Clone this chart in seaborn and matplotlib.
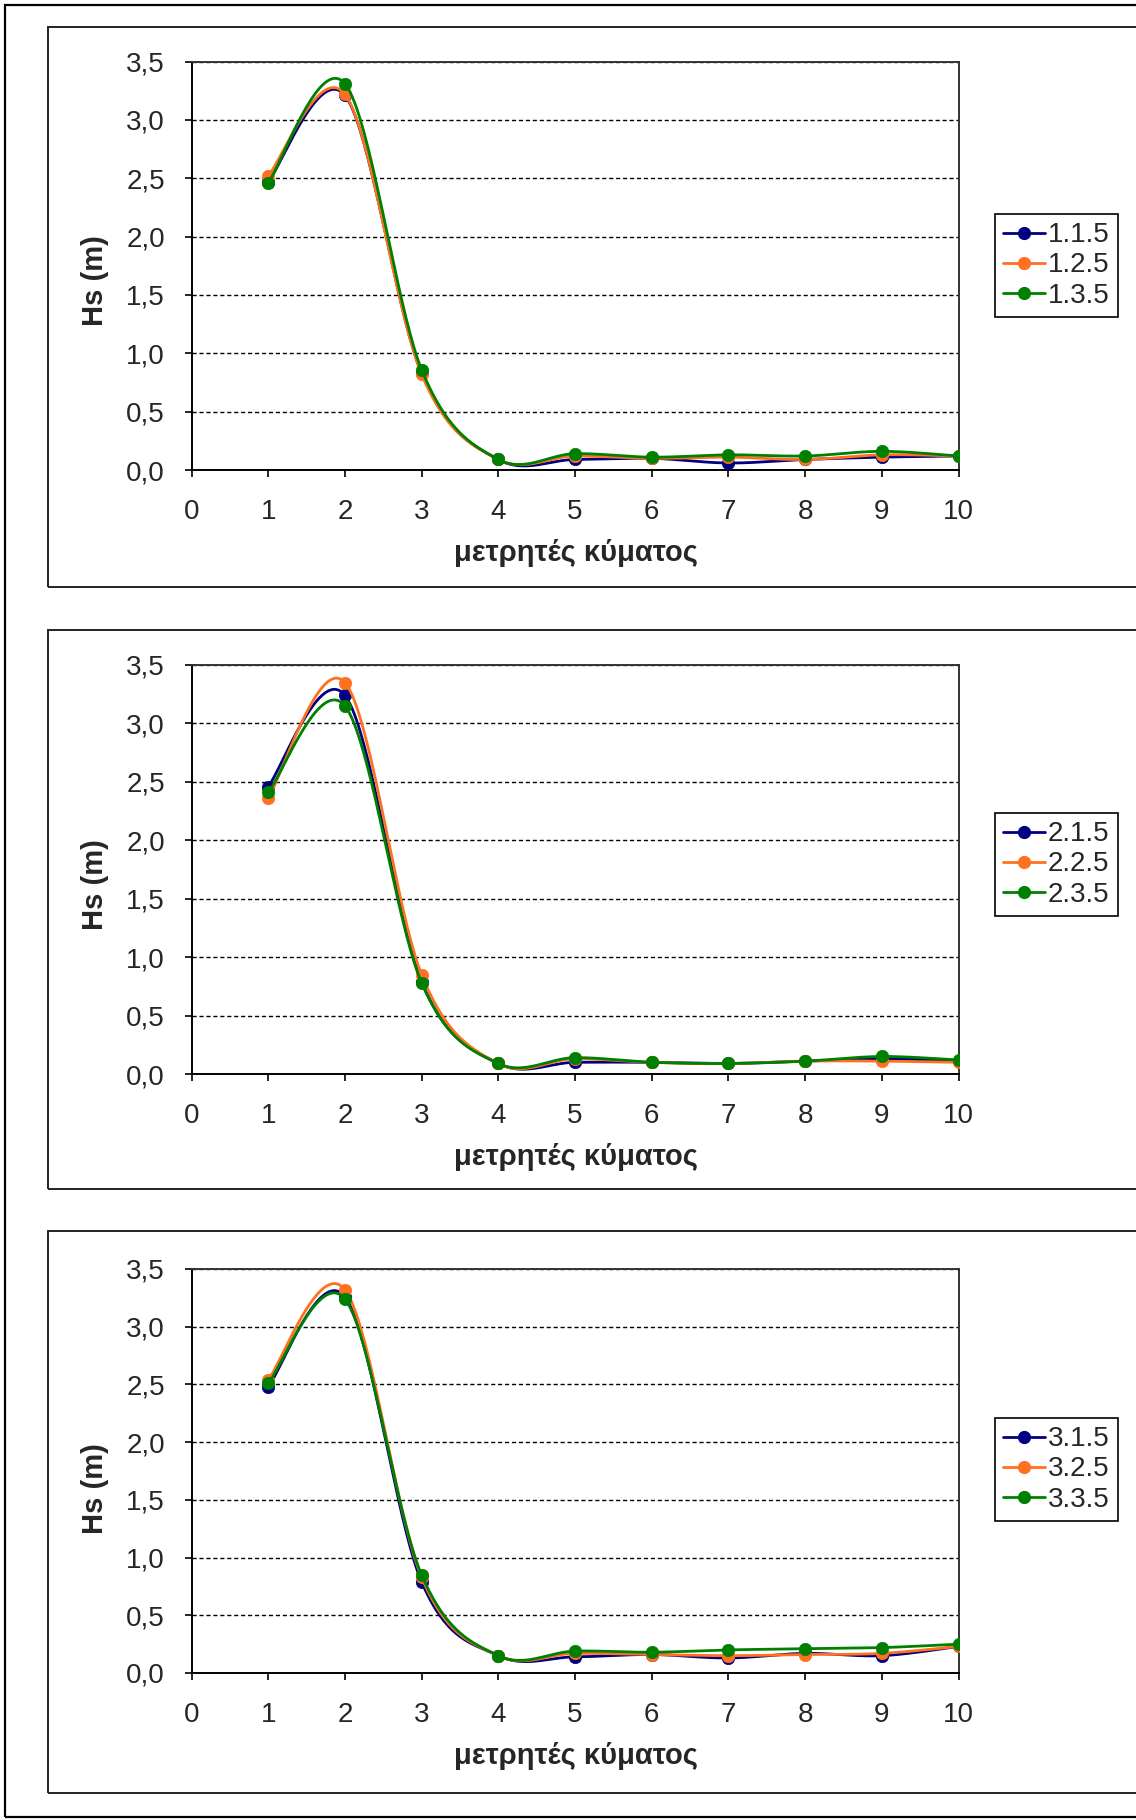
import numpy as np
import matplotlib
matplotlib.use("Agg")
import matplotlib.pyplot as plt
import seaborn as sns
from matplotlib.lines import Line2D
from matplotlib.patches import Rectangle

# ---- data: significant wave height Hs (m) at wave gauges 1..10 ----
gauges = [1, 2, 3, 4, 5, 6, 7, 8, 9, 10]

hs_1_1_5 = [2.47, 3.21, 0.83, 0.09, 0.09, 0.10, 0.06, 0.09, 0.11, 0.12]
hs_1_2_5 = [2.52, 3.22, 0.82, 0.09, 0.12, 0.10, 0.11, 0.09, 0.13, 0.12]
hs_1_3_5 = [2.46, 3.31, 0.86, 0.09, 0.14, 0.11, 0.13, 0.12, 0.16, 0.12]

hs_2_1_5 = [2.46, 3.24, 0.79, 0.09, 0.10, 0.10, 0.09, 0.11, 0.13, 0.11]
hs_2_2_5 = [2.36, 3.35, 0.85, 0.09, 0.13, 0.10, 0.09, 0.11, 0.11, 0.10]
hs_2_3_5 = [2.41, 3.15, 0.78, 0.09, 0.14, 0.10, 0.09, 0.11, 0.15, 0.12]

hs_3_1_5 = [2.48, 3.26, 0.79, 0.15, 0.14, 0.16, 0.13, 0.17, 0.15, 0.23]
hs_3_2_5 = [2.54, 3.32, 0.83, 0.15, 0.17, 0.16, 0.15, 0.16, 0.17, 0.23]
hs_3_3_5 = [2.51, 3.24, 0.85, 0.15, 0.19, 0.18, 0.20, 0.21, 0.22, 0.25]

labels_1 = ["1.1.5", "1.2.5", "1.3.5"]
labels_2 = ["2.1.5", "2.2.5", "2.3.5"]
labels_3 = ["3.1.5", "3.2.5", "3.3.5"]

x_ticks = list(range(0, 11))
y_ticks = [0.0, 0.5, 1.0, 1.5, 2.0, 2.5, 3.0, 3.5]
x_title = "μετρητές κύματος"
y_title = "Hs (m)"

series_colors = ["#000080", "#FF7020", "#008000"]

panels = [
    (labels_1, [hs_1_1_5, hs_1_2_5, hs_1_3_5]),
    (labels_2, [hs_2_1_5, hs_2_2_5, hs_2_3_5]),
    (labels_3, [hs_3_1_5, hs_3_2_5, hs_3_3_5]),
]

# ---- layout (pixels) ----
W, H = 1136, 1820
plot_rects = [(191.5, 61.5, 958.5, 470.0),
              (191.5, 665.0, 958.5, 1074.0),
              (191.5, 1269.0, 958.5, 1673.0)]
box_rects = [(48, 27, 587), (48, 630, 1189), (48, 1231, 1793)]
legend_tops = [214, 813, 1418]

sns.set_style("white")
plt.rcParams["font.family"] = ["Liberation Sans", "DejaVu Sans"]

fig = plt.figure(figsize=(W / 100, H / 100), dpi=100)
fig.patch.set_facecolor("white")


def fx(px):
    return px / W


def fy(py):
    return 1 - py / H


def smooth_curve(xs, ys, n=40):
    """Cubic Bezier smoothing through the points (spreadsheet-style smoothed line)."""
    P = np.column_stack([xs, ys]).astype(float)
    ext = np.vstack([P[0], P, P[-1]])
    out = []
    for i in range(len(P) - 1):
        p0, p1, p2, p3 = ext[i], ext[i + 1], ext[i + 2], ext[i + 3]
        b1 = p1 + (p2 - p0) / 6
        b2 = p2 - (p3 - p1) / 6
        t = np.linspace(0, 1, n, endpoint=(i == len(P) - 2))[:, None]
        seg = (1 - t) ** 3 * p1 + 3 * (1 - t) ** 2 * t * b1 + 3 * (1 - t) * t ** 2 * b2 + t ** 3 * p2
        out.append(seg)
    return np.vstack(out)


# outer frame
fig.add_artist(Rectangle((fx(5), fy(1817)), fx(1150) - fx(5), fy(5) - fy(1817),
                         transform=fig.transFigure, fill=False, ec="black", lw=1.6))

comma = matplotlib.ticker.FuncFormatter(lambda v, p: f"{v:.1f}".replace(".", ","))

for k, (labels, data) in enumerate(panels):
    bx, btop, bbot = box_rects[k]
    fig.add_artist(Rectangle((fx(bx), fy(bbot)), fx(1150) - fx(bx), fy(btop) - fy(bbot),
                             transform=fig.transFigure, fill=False, ec="#222222", lw=1.4))

    l, t, r, b = plot_rects[k]
    ax = fig.add_axes([fx(l), fy(b), fx(r) - fx(l), fy(t) - fy(b)])
    ax.set_facecolor("white")

    for j, (vals, col) in enumerate(zip(data, series_colors)):
        c = smooth_curve(gauges, vals)
        sns.lineplot(x=c[:, 0], y=c[:, 1], ax=ax, color=col, lw=2.0,
                     estimator=None, sort=False, zorder=3 + 2 * j)
        sns.scatterplot(x=gauges, y=vals, ax=ax, color=col, s=80, edgecolor=col,
                        linewidth=0.5, zorder=4 + 2 * j, legend=False)

    ax.set_xlim(0, 10)
    ax.set_ylim(0, 3.5)
    ax.set_xticks(x_ticks)
    ax.set_yticks(y_ticks)
    ax.yaxis.set_major_formatter(comma)
    ax.set_xlabel("")
    ax.set_ylabel("")
    ax.yaxis.grid(True, color="black", lw=1.0, linestyle=(0, (3, 2)))
    ax.xaxis.grid(False)
    ax.set_axisbelow(True)
    for s in ["left", "bottom"]:
        ax.spines[s].set_color("black")
        ax.spines[s].set_linewidth(1.4)
    for s in ["top", "right"]:
        ax.spines[s].set_color("#333333")
        ax.spines[s].set_linewidth(1.4)
    ax.tick_params(axis="x", direction="out", length=5, width=1.2, color="black",
                   labelsize=20, pad=16, bottom=True)
    ax.tick_params(axis="y", direction="out", length=5, width=1.2, color="black",
                   labelsize=20, pad=14, left=True)

    # axis titles
    fig.text(fx(95), fy(281 + (t - 61.5)), y_title, rotation=90, ha="center", va="center",
             fontsize=21, fontweight="bold")
    fig.text(fx(576), fy(553 + (b - 470.0)), x_title, ha="center", va="center",
             fontsize=21, fontweight="bold")

    handles = [Line2D([], [], color=c, lw=2.0, marker="o", markersize=8.5)
               for c in series_colors]
    leg = ax.legend(handles, labels, loc="upper left",
                    bbox_to_anchor=(fx(995), fy(legend_tops[k])),
                    bbox_transform=fig.transFigure, borderaxespad=0,
                    fontsize=20, frameon=True, fancybox=False, framealpha=1,
                    edgecolor="black", handlelength=1.5, handletextpad=0.1,
                    labelspacing=0.15, borderpad=0.3)
    leg.get_frame().set_linewidth(1.2)

fig.savefig("out.png", dpi=100, facecolor="white")
